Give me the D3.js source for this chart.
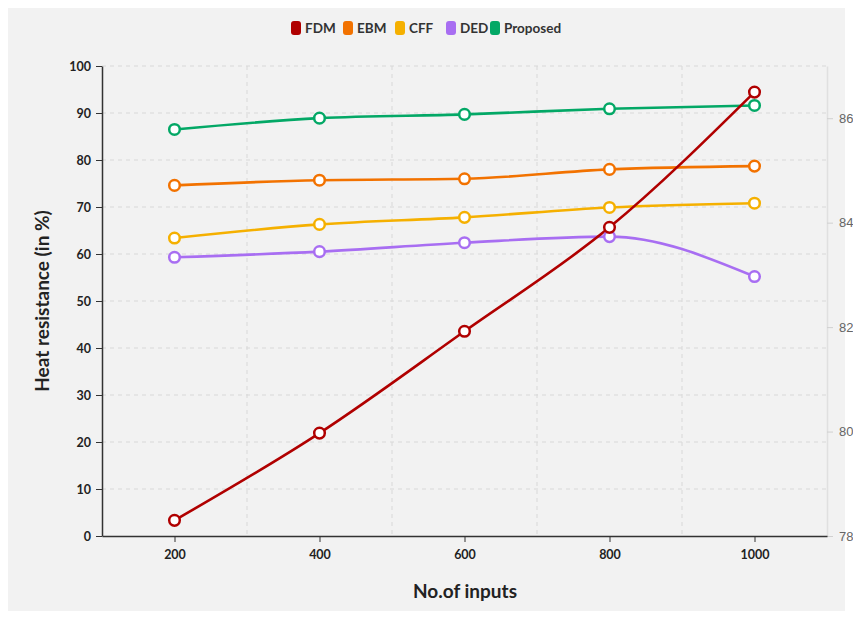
<!DOCTYPE html>
<html><head><meta charset="utf-8">
<script src="https://cdn.jsdelivr.net/npm/d3@7"></script>
<style>
body{margin:0;background:#fff;}
svg{display:block;}
</style></head>
<body><svg id="c" width="853" height="619"></svg>
<script>
const inputs = [200, 400, 600, 800, 1000];
const seriesNames = ["FDM", "EBM", "CFF", "DED", "Proposed"];
const FDM = [78.3, 79.97, 81.92, 83.91, 86.5];
const EBM = [74.6, 75.7, 76.0, 78.0, 78.7];
const CFF = [63.4, 66.3, 67.8, 69.9, 70.8];
const DED = [59.3, 60.5, 62.4, 63.7, 55.2];
const Proposed = [86.5, 88.9, 89.7, 90.9, 91.6];
const leftTicks = [0,10,20,30,40,50,60,70,80,90,100];
const rightTicks = [78,80,82,84,86];
const xTicks = [200,400,600,800,1000];
const xGrid = [300,500,700,900];
const colors = ["#b00000","#f27200","#f5b000","#a86ef2","#03a866"];
const seriesData = [FDM, EBM, CFF, DED, Proposed];
const onRight = [true,false,false,false,false];

const svg = d3.select("#c");
svg.append("rect").attr("x",8).attr("y",8).attr("width",837).attr("height",603).attr("fill","#f2f2f2");

const L=102, R=827, T=66, B=536;
const x = d3.scaleLinear().domain([100,1100]).range([L,R]);
const yL = d3.scaleLinear().domain([0,100]).range([B,T]);
const yR = d3.scaleLinear().domain([78,87]).range([B,T]);

const font = "Lato, 'Noto Sans', sans-serif";
// grid
const g = svg.append("g");
g.selectAll(".hg").data(leftTicks.slice(1)).enter().append("line")
 .attr("x1",L).attr("x2",R).attr("y1",d=>yL(d)).attr("y2",d=>yL(d))
 .attr("stroke","#d8d8d8").attr("stroke-dasharray","4,4");
g.selectAll(".vg").data(xGrid).enter().append("line")
 .attr("y1",T).attr("y2",B).attr("x1",d=>x(d)).attr("x2",d=>x(d))
 .attr("stroke","#d8d8d8").attr("stroke-dasharray","4,4");

// right axis
const ra = svg.append("g").attr("transform",`translate(${R},0)`)
 .call(d3.axisRight(yR).tickValues(rightTicks).tickSize(6).tickSizeOuter(0).tickPadding(6));
ra.select(".domain").attr("stroke","#e0e0e0").attr("stroke-width",1.5);
ra.selectAll(".tick line").attr("stroke","#d0d0d0");
ra.selectAll("text").attr("fill","#666").style("font-family","'Liberation Sans', Arial, sans-serif").style("font-size","13px");

// left axis
const la = svg.append("g").attr("transform",`translate(${L},0)`)
 .call(d3.axisLeft(yL).tickValues(leftTicks).tickSize(6).tickSizeOuter(0).tickPadding(5));
la.select(".domain").attr("stroke","#333").attr("stroke-width",1.5);
la.selectAll(".tick line").attr("stroke","#333");
la.selectAll("text").attr("fill","#222").style("font-family",font).style("font-weight","bold").style("font-size","12.5px");

// x axis
const xa = svg.append("g").attr("transform",`translate(0,${B})`)
 .call(d3.axisBottom(x).tickValues(xTicks).tickFormat(d3.format("d")).tickSize(6).tickSizeOuter(0).tickPadding(8));
xa.select(".domain").attr("stroke","#333").attr("stroke-width",1.5);
xa.selectAll(".tick line").attr("stroke","#333");
xa.selectAll("text").attr("fill","#222").style("font-family",font).style("font-weight","bold").style("font-size","12.5px");

// titles
svg.append("text").attr("x",465).attr("y",598).attr("text-anchor","middle")
 .style("font-family",font).style("font-weight","bold").style("font-size","19px").attr("fill","#222").text("No.of inputs");
svg.append("text").attr("transform","translate(49,301) rotate(-90)").attr("text-anchor","middle")
 .style("font-family",font).style("font-weight","bold").style("font-size","19px").attr("fill","#222").text("Heat resistance (in %)");

// series
const order = [4,1,2,3,0];
order.forEach(i=>{
  const ys = onRight[i]?yR:yL;
  const pts = inputs.map((v,j)=>[x(v), ys(seriesData[i][j])]);
  svg.append("path").attr("d", d3.line().curve(d3.curveMonotoneX)(pts))
   .attr("fill","none").attr("stroke",colors[i]).attr("stroke-width",2.6);
});
order.forEach(i=>{
  const ys = onRight[i]?yR:yL;
  svg.selectAll(null).data(inputs).enter().append("circle")
   .attr("cx",d=>x(d)).attr("cy",(d,j)=>ys(seriesData[i][j])).attr("r",5.3)
   .attr("fill","#fff").attr("stroke",colors[i]).attr("stroke-width",2.5);
});

// legend
const legendX = [291, 343, 395, 446, 490];
const lg = svg.append("g");
seriesNames.forEach((n,i)=>{
  lg.append("rect").attr("x",legendX[i]).attr("y",21).attr("width",10).attr("height",14).attr("rx",3)
   .attr("fill",colors[i]);
  lg.append("text").attr("x",legendX[i]+14).attr("y",33).text(n)
   .style("font-family",font).style("font-weight","bold").style("font-size","13.5px").attr("fill","#333");
});
</script></body></html>
